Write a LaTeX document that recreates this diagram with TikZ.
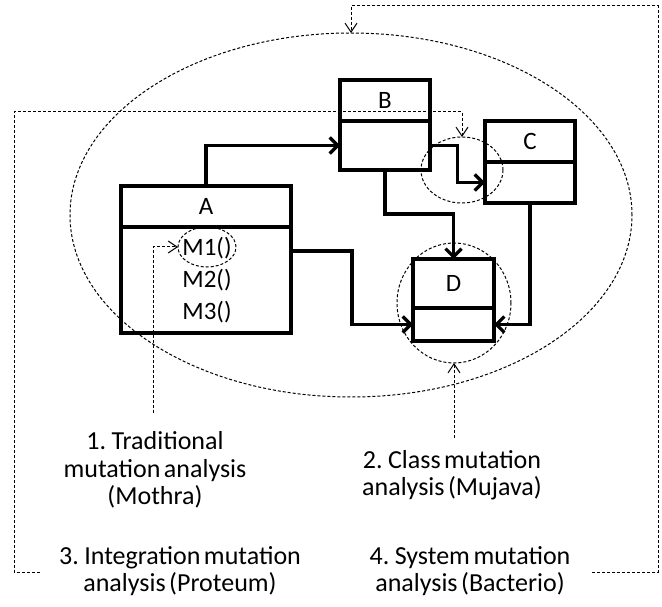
\documentclass[tikz,border=0pt]{standalone}
\usepackage{fontspec}
\setmainfont{Carlito}[WordSpace=0.6]
\usetikzlibrary{arrows.meta,calc,shapes.geometric}
\begin{document}
\begin{tikzpicture}[x=1pt,y=-1pt,
  cls/.style={draw, line width=3.2pt, inner sep=0pt, outer sep=0pt, font=\fontsize{25}{28}\selectfont},
  conn/.style={line width=3.2pt, -{Straight Barb[length=8pt,width=16pt]}},
  dline/.style={line width=1pt, dash pattern=on 3pt off 2pt},
  darrow/.style={dline, -{Straight Barb[length=9pt,width=12pt,line width=1pt]}},
  zone/.style={ellipse, draw, dline, inner sep=0pt, outer sep=0pt},
  mtext/.style={inner sep=0pt, font=\fontsize{25}{28}\selectfont},
  lbl/.style={align=center, inner sep=0pt, font=\fontsize{26}{27.5}\selectfont},
]
\useasboundingbox (0,0) rectangle (662,607);

% classes
\node[cls, anchor=north west, minimum width=170pt, minimum height=41pt] (Ah) at (121,186) {A};
\node[cls, anchor=north, minimum width=170pt, minimum height=106pt] (Ab) at (Ah.south) {};
\node[cls, anchor=north west, minimum width=90pt, minimum height=41pt] (Bh) at (340,80) {B};
\node[cls, anchor=north, minimum width=90pt, minimum height=49pt] (Bb) at (Bh.south) {};
\node[cls, anchor=north west, minimum width=90pt, minimum height=41pt] (Ch) at (485,121) {C};
\node[cls, anchor=north, minimum width=90pt, minimum height=41pt] (Cb) at (Ch.south) {};
\node[cls, anchor=north west, minimum width=81pt, minimum height=49pt] (Dh) at (413,259) {D};
\node[cls, anchor=north, minimum width=81pt, minimum height=33pt] (Db) at (Dh.south) {};

\node[mtext] (M1) at (207,248) {M1()};
\node[mtext] (M2) at (207,280) {M2()};
\node[mtext] (M3) at (207,312) {M3()};

% zones
\node[zone, minimum width=562pt, minimum height=364pt] (Esys) at (351,215) {};
\node[zone, minimum width=82pt, minimum height=66pt] (Eint) at (462,170) {};
\node[zone, minimum width=114pt, minimum height=120pt] (Ecls) at (454,303) {};
\node[zone, minimum width=58pt, minimum height=40pt] (Eunit) at (207,247) {};

% labels
\node[lbl] (L1) at (155,470) {1. Traditional\\mutation analysis\\(Mothra)};
\node[lbl] (L2) at (452,475) {2. Class mutation\\analysis (Mujava)};
\node[lbl] (L3) at (180,571) {3. Integration mutation\\analysis (Proteum)};
\node[lbl] (L4) at (470,571) {4. System mutation\\analysis (Bacterio)};

% thick connectors
\draw[conn] (Ah.north) |- (Bb.west);
\draw[conn] (Bb.east) -| ($(Bb.east)!0.5!(Cb.west)$) |- (Cb.west);
\draw[conn] (Bb.south) -- ++(0,44) -| (Dh.north);
\draw[conn] ($(Ab.north east)+(0,24)$) -| ($(Ab.east)!0.5!(Db.west)$) |- (Db.west);
\draw[conn] (Cb.south) |- (Db.east);

% dashed connectors
\coordinate (s1) at (153,413);
\coordinate (s2) at (454,438);
\coordinate (s3) at (40,572);
\coordinate (s4) at (592,572);
\draw[darrow] (s1) |- (Eunit.west);
\draw[darrow] (s2) -- (Ecls.south);
\draw[darrow] (s3) -| (14,112) -| (Eint.north);
\draw[darrow] (s4) -| (658,6) -| (Esys.north);
\end{tikzpicture}
\end{document}
